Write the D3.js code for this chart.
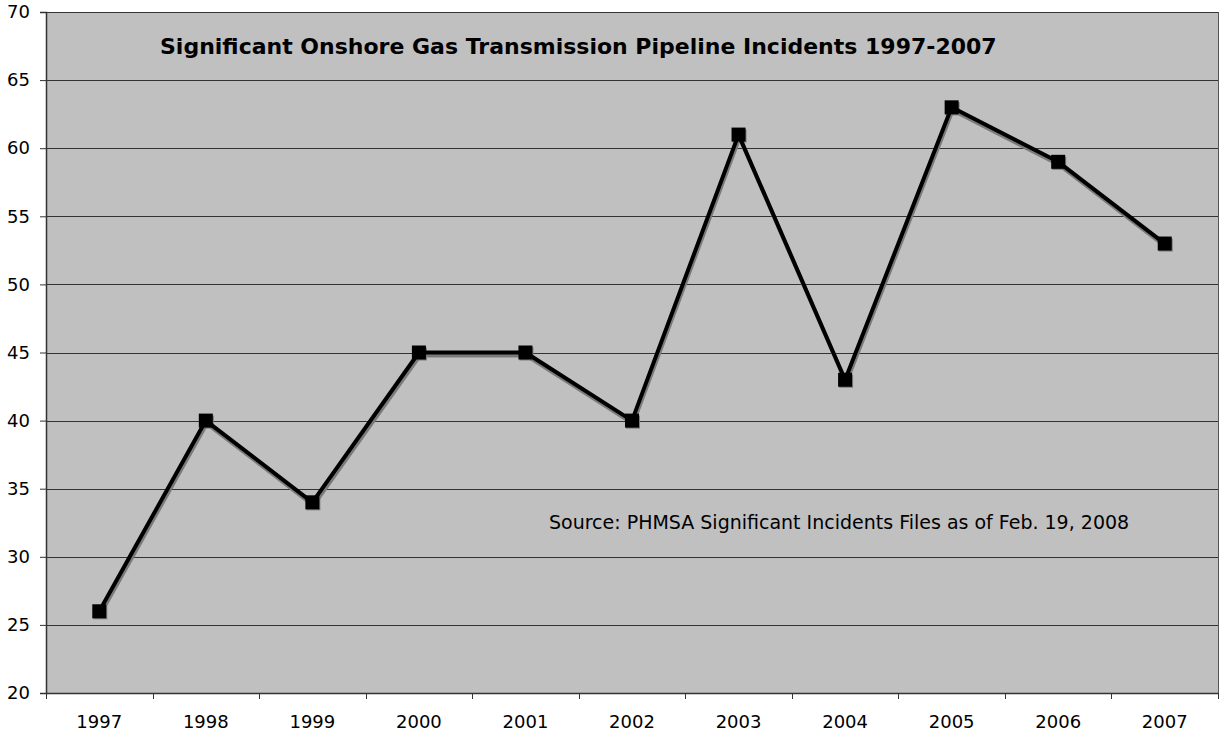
<!DOCTYPE html>
<html><head><meta charset="utf-8">
<script src="https://cdn.jsdelivr.net/npm/d3@7"></script>
<style>body{margin:0;background:#fff;} svg{display:block;font-family:"DejaVu Sans",Verdana,sans-serif;}</style>
</head><body>
<script>
const years = ["1997","1998","1999","2000","2001","2002","2003","2004","2005","2006","2007"];
const incidents = [26,40,34,45,45,40,61,43,63,59,53];
const yTicks = [20,25,30,35,40,45,50,55,60,65,70];
const title = "Significant Onshore Gas Transmission Pipeline Incidents 1997-2007";
const source = "Source: PHMSA Significant Incidents Files as of Feb. 19, 2008";

const W=1225,H=736, L=46,T=12,R=1218,B=693;
const svg=d3.select("body").append("svg").attr("width",W).attr("height",H);
const x=d3.scaleBand().domain(years).range([L,R]);
const y=d3.scaleLinear().domain([20,70]).range([B,T]);

svg.append("rect").attr("x",L).attr("y",T).attr("width",R-L).attr("height",B-T).attr("fill","#c0c0c0");
svg.append("g").selectAll("line").data(yTicks.filter(d=>d>20)).join("line")
 .attr("x1",L).attr("x2",R).attr("y1",d=>Math.round(y(d))+0.5).attr("y2",d=>Math.round(y(d))+0.5)
 .attr("stroke","#333").attr("stroke-width",1);
svg.append("line").attr("x1",R+0.5).attr("x2",R+0.5).attr("y1",T).attr("y2",B).attr("stroke","#555");

const yAxis=svg.append("g").attr("transform",`translate(${L},0)`)
 .call(d3.axisLeft(y).tickValues(yTicks).tickSize(6).tickPadding(10).tickFormat(d3.format("d")));
const xAxis=svg.append("g").attr("transform",`translate(0,${B})`)
 .call(d3.axisBottom(x).tickSize(0).tickPadding(22));
[yAxis,xAxis].forEach(g=>{g.select(".domain").attr("stroke","#333").attr("stroke-width",1.5);
 g.selectAll("text").attr("font-size",18).attr("fill","#000").attr("font-family","DejaVu Sans, Verdana, sans-serif");});
yAxis.selectAll(".tick line").attr("stroke","#333");
const bounds=years.map(d=>x(d)).concat([R]);
svg.append("g").selectAll("line").data(bounds).join("line")
 .attr("x1",d=>Math.round(d)+0.5).attr("x2",d=>Math.round(d)+0.5).attr("y1",B).attr("y2",B+6).attr("stroke","#333");

const cx=d=>x(d)+x.bandwidth()/2;
const line=d3.line().x((d,i)=>cx(years[i])).y(d=>y(d));
svg.append("path").datum(incidents).attr("d",line).attr("transform","translate(1,3)")
 .attr("fill","none").attr("stroke","#7a7a7a").attr("stroke-width",4).attr("stroke-linejoin","round");
svg.append("g").selectAll("rect").data(incidents).join("rect")
 .attr("x",(d,i)=>cx(years[i])-6).attr("y",d=>y(d)-5).attr("width",14).attr("height",13).attr("fill","#7a7a7a");
svg.append("path").datum(incidents).attr("d",line)
 .attr("fill","none").attr("stroke","#000").attr("stroke-width",4).attr("stroke-linejoin","round");
svg.append("g").selectAll("rect").data(incidents).join("rect")
 .attr("x",(d,i)=>cx(years[i])-7).attr("y",d=>y(d)-7).attr("width",14).attr("height",14).attr("fill","#000");

svg.append("text").attr("x",160).attr("y",54).attr("font-size",22).attr("font-weight","bold").text(title);
svg.append("text").attr("x",549).attr("y",529).attr("font-size",19).text(source);
</script>
</body></html>
